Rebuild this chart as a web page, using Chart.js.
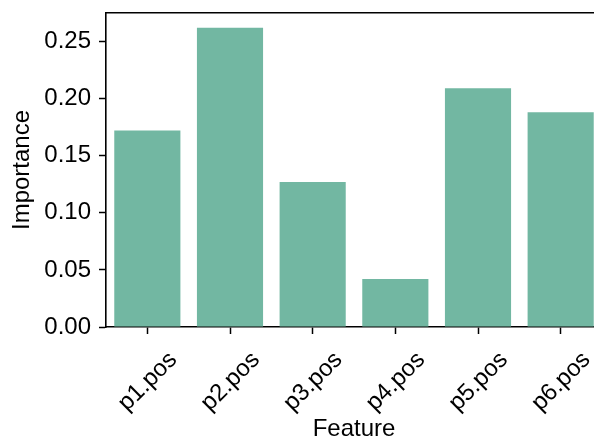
<!DOCTYPE html>
<html>
<head>
<meta charset="utf-8">
<script src="https://cdn.jsdelivr.net/npm/chart.js@4.4.1/dist/chart.umd.min.js"></script>
<style>
  html, body { margin: 0; padding: 0; background: #fff; overflow: hidden; }
  #wrap { width: 594px; height: 439px; overflow: hidden; }
</style>
</head>
<body>
<div id="wrap"><canvas id="chart" width="610" height="439"></canvas></div>
<script>
// feature importances
const features = ['p1.pos', 'p2.pos', 'p3.pos', 'p4.pos', 'p5.pos', 'p6.pos'];
const importance = [0.172, 0.262, 0.127, 0.042, 0.209, 0.188];
const yTicks = [0, 0.05, 0.10, 0.15, 0.20, 0.25];

const FONT = { family: '"Liberation Sans", Arial, Helvetica, sans-serif', size: 24 };

// chart area must sit where the reference puts it, ignore label overhang padding
function noPad(s) {
  s.paddingTop = 0; s.paddingBottom = 0; s.paddingLeft = 0; s.paddingRight = 0;
}

new Chart(document.getElementById('chart'), {
  type: 'bar',
  data: {
    labels: features,
    datasets: [{
      label: 'Importance',
      data: importance,
      backgroundColor: '#72b7a2',
      barPercentage: 0.8,
      categoryPercentage: 1.0
    }]
  },
  options: {
    responsive: false,
    animation: false,
    layout: { padding: { left: 0, right: 8, top: 0, bottom: 0 } },
    plugins: { legend: { display: false }, tooltip: { enabled: false } },
    scales: {
      x: {
        position: 'bottom',
        grid: { display: true, offset: false, drawOnChartArea: false, drawTicks: true, tickLength: 7, tickColor: '#000', tickWidth: 1.5 },
        border: { display: true, color: '#000', width: 1.6 },
        ticks: {
          color: '#000', font: FONT, autoSkip: false,
          minRotation: 45, maxRotation: 45, padding: 12, labelOffset: 26
        },
        title: { display: true, text: 'Feature', color: '#000', font: { ...FONT, lineHeight: 1 }, padding: { top: 0, bottom: -2 } },
        afterFit: s => { s.height = 112; noPad(s); }
      },
      xTop: {
        type: 'category',
        position: 'top',
        grid: { display: false },
        ticks: { display: false },
        border: { display: true, color: '#000', width: 1.6 },
        afterFit: s => { s.height = 13; noPad(s); }
      },
      y: {
        min: 0,
        max: 0.275,
        afterBuildTicks: s => { s.ticks = yTicks.map(v => ({ value: v })); },
        grid: { display: true, drawOnChartArea: false, drawTicks: true, tickLength: 7, tickColor: '#000', tickWidth: 1.5 },
        border: { display: true, color: '#000', width: 1.6 },
        ticks: { color: '#000', font: FONT, padding: 8, callback: v => v.toFixed(2) },
        title: { display: true, text: 'Importance', color: '#000', font: { ...FONT, lineHeight: 1 }, padding: { top: 10, bottom: 0 } },
        afterFit: s => { s.width = 106; noPad(s); }
      }
    }
  }
});
</script>
</body>
</html>
